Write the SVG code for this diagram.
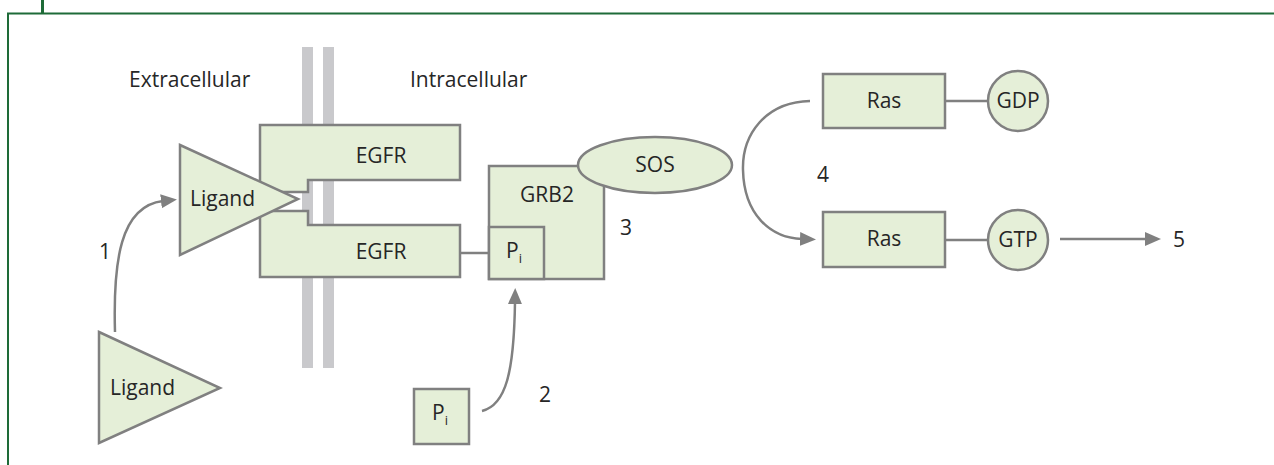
<svg xmlns="http://www.w3.org/2000/svg" width="1274" height="465" viewBox="0 0 1274 465">
<style>
.n{fill:#e5efd8;stroke:#808080;stroke-width:2.5}
.t{font-family:"Open Sans","Liberation Sans",sans-serif;font-size:21px;fill:#262626}
.m{text-anchor:middle}
.c{fill:none;stroke:#808080;stroke-width:2.5}
.mem{fill:#c9c9cc}
.f{stroke:#1e6b38;fill:none}
</style>
<defs>
<marker id="ah" markerUnits="userSpaceOnUse" markerWidth="18" markerHeight="16" refX="2" refY="7" orient="auto" viewBox="0 0 18 14">
<path d="M0,0 L16,7 L0,14 z" fill="#808080"/>
</marker>
</defs>
<g id="frame">
<path class="f" stroke-width="2" d="M8,465 V13.5 H1274"/>
<path class="f" stroke-width="3" d="M42.5,0 V13"/>
</g>
<g id="membrane">
<rect class="mem" x="302" y="47" width="11" height="321"/>
<rect class="mem" x="323" y="47" width="11" height="321"/>
</g>
<g id="labels">
<text class="t" x="129" y="87">Extracellular</text>
<text class="t" x="410" y="87">Intracellular</text>
<text class="t" x="99" y="259">1</text>
<text class="t" x="539" y="402">2</text>
<text class="t" x="620" y="235">3</text>
<text class="t" x="817" y="182">4</text>
<text class="t" x="1173" y="247">5</text>
</g>
<g id="connectors">
<path class="c" d="M460,253 H489"/>
<path class="c" d="M945,101 H988"/>
<path class="c" d="M945,240 H988"/>
<path class="c" marker-end="url(#ah)" d="M115,332 C113,262 120,206 163,201"/>
<path class="c" marker-end="url(#ah)" d="M482,411 C506,405 514,372 515,302"/>
<path class="c" marker-end="url(#ah)" d="M810,101 C765,102 742,135 743,170 C744,214 770,238 802,239"/>
<path class="c" marker-end="url(#ah)" d="M1060,239 H1147"/>
</g>
<g id="egfr-top">
<path class="n" d="M260,125 H460 V180 H308 V192 H260 Z"/>
<text class="t m" x="381" y="163">EGFR</text>
</g>
<g id="egfr-bottom">
<path class="n" d="M260,211 H308 V225 H460 V277 H260 Z"/>
<text class="t m" x="381" y="259">EGFR</text>
</g>
<g id="ligand-bound">
<path class="n" d="M180,145 L298,199 L180,255 Z"/>
<text class="t" x="190" y="206">Ligand</text>
</g>
<g id="ligand-free">
<path class="n" d="M99,332 L220,388 L99,443 Z"/>
<text class="t" x="110" y="395">Ligand</text>
</g>
<g id="grb2">
<rect class="n" x="489" y="166" width="115" height="113"/>
<text class="t m" x="547" y="202">GRB2</text>
</g>
<g id="grb2-pi">
<rect class="n" x="489" y="227" width="55" height="52"/>
<text class="t" x="506" y="258">P<tspan font-size="13" dy="5">i</tspan></text>
</g>
<g id="sos">
<ellipse class="n" cx="655" cy="165" rx="77" ry="28"/>
<text class="t m" x="655" y="172">SOS</text>
</g>
<g id="pi-free">
<rect class="n" x="414" y="389" width="55" height="55"/>
<text class="t" x="432" y="420">P<tspan font-size="13" dy="5">i</tspan></text>
</g>
<g id="ras-gdp">
<rect class="n" x="823" y="74" width="122" height="54"/>
<text class="t m" x="884" y="108">Ras</text>
</g>
<g id="gdp">
<circle class="n" cx="1018" cy="101" r="30"/>
<text class="t m" x="1018" y="108">GDP</text>
</g>
<g id="ras-gtp">
<rect class="n" x="823" y="212" width="122" height="55"/>
<text class="t m" x="884" y="246">Ras</text>
</g>
<g id="gtp">
<circle class="n" cx="1018" cy="240" r="30"/>
<text class="t m" x="1018" y="247">GTP</text>
</g>
</svg>
